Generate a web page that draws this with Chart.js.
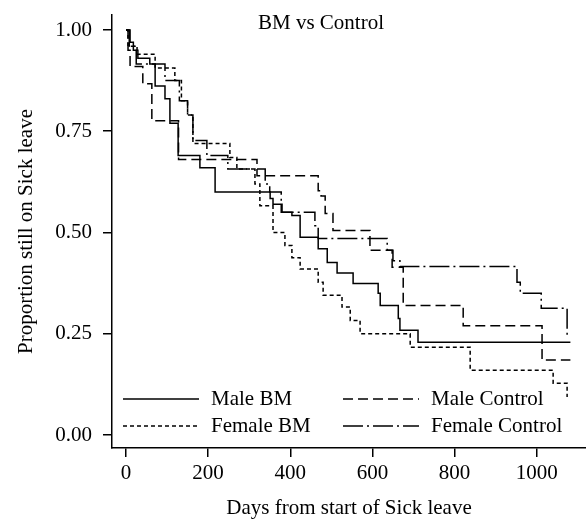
<!DOCTYPE html>
<html>
<head>
<meta charset="utf-8">
<script src="https://cdn.jsdelivr.net/npm/chart.js@4.4.1/dist/chart.umd.min.js"></script>
<style>
  html, body { margin: 0; padding: 0; background: #fff; }
  #wrap { width: 586px; height: 521px; }
</style>
</head>
<body>
<div id="wrap"><canvas id="km"></canvas></div>
<script>
// ─── Data ───
const xTicks = [0, 200, 400, 600, 800, 1000];
const yTicks = [0, 0.25, 0.5, 0.75, 1];

const maleBmDays = [0, 10, 18, 29, 58, 71, 95, 107, 127, 180, 217, 351, 358, 380, 404, 424, 468, 490, 514, 553, 614, 619, 663, 667, 711, 1082];
const maleBmSurv = [1, 0.97, 0.95, 0.93, 0.916, 0.862, 0.83, 0.77, 0.69, 0.66, 0.60, 0.584, 0.57, 0.55, 0.542, 0.488, 0.46, 0.426, 0.40, 0.374, 0.35, 0.32, 0.288, 0.259, 0.229, 0.229];

const femaleBmDays = [0, 5, 27, 71, 119, 135, 150, 163, 253, 270, 314, 326, 358, 387, 404, 424, 468, 480, 526, 546, 570, 692, 838, 1040, 1074];
const femaleBmSurv = [1, 0.96, 0.94, 0.906, 0.875, 0.825, 0.79, 0.72, 0.685, 0.657, 0.62, 0.566, 0.50, 0.468, 0.438, 0.41, 0.377, 0.345, 0.316, 0.283, 0.25, 0.217, 0.16, 0.128, 0.094];

const maleCtrlDays = [0, 5, 10, 41, 63, 128, 319, 468, 475, 485, 504, 594, 648, 675, 821, 1013, 1082];
const maleCtrlSurv = [1, 0.95, 0.91, 0.867, 0.776, 0.68, 0.64, 0.603, 0.59, 0.547, 0.505, 0.456, 0.414, 0.32, 0.27, 0.185, 0.185];

const femaleCtrlDays = [0, 8, 25, 95, 130, 150, 163, 197, 248, 339, 350, 378, 460, 468, 636, 650, 667, 952, 960, 1011, 1074];
const femaleCtrlSurv = [1, 0.96, 0.916, 0.875, 0.825, 0.79, 0.727, 0.69, 0.657, 0.62, 0.60, 0.55, 0.517, 0.485, 0.456, 0.43, 0.416, 0.377, 0.35, 0.313, 0.24];

const seriesNames = ['Male BM', 'Male Control', 'Female BM', 'Female Control'];

// ─── Helpers ───
function pts(days, surv) {
  return days.map((d, i) => ({ x: d, y: surv[i] }));
}

const FONT = { family: "'Liberation Serif', 'Times New Roman', serif", size: 21 };

function kmSet(label, days, surv, dash) {
  return {
    label,
    data: pts(days, surv),
    borderColor: '#000',
    borderWidth: 1.5,
    borderDash: dash,
    stepped: 'before',
    pointRadius: 0,
    fill: false
  };
}

// Title drawn inside the plot, as in the figure
const innerTitle = {
  id: 'innerTitle',
  afterDraw(chart, args, opts) {
    const ctx = chart.ctx;
    ctx.save();
    ctx.font = `${FONT.size}px ${FONT.family}`;
    ctx.fillStyle = '#000';
    ctx.textAlign = 'center';
    ctx.textBaseline = 'middle';
    ctx.fillText(opts.text, opts.x, opts.y);
    ctx.restore();
  }
};

// Two-column legend inside the bottom of the plot
const innerLegend = {
  id: 'innerLegend',
  afterDraw(chart, args, opts) {
    const ctx = chart.ctx;
    ctx.save();
    ctx.font = `${FONT.size}px ${FONT.family}`;
    ctx.fillStyle = '#000';
    ctx.textBaseline = 'middle';
    ctx.textAlign = 'left';
    chart.data.datasets.forEach((ds, i) => {
      const x = opts.cols[i % 2];
      const y = opts.rows[Math.floor(i / 2)];
      ctx.strokeStyle = ds.borderColor;
      ctx.lineWidth = ds.borderWidth;
      ctx.setLineDash(ds.borderDash || []);
      ctx.beginPath();
      ctx.moveTo(x, y);
      ctx.lineTo(x + opts.lineLen, y);
      ctx.stroke();
      ctx.setLineDash([]);
      ctx.fillText(ds.label, x + opts.textGap, y);
    });
    ctx.restore();
  }
};

const ctx = document.getElementById('km');

new Chart(ctx, {
  type: 'line',
  data: {
    datasets: [
      kmSet(seriesNames[0], maleBmDays, maleBmSurv, []),
      kmSet(seriesNames[1], maleCtrlDays, maleCtrlSurv, [10, 5]),
      kmSet(seriesNames[2], femaleBmDays, femaleBmSurv, [4, 3]),
      kmSet(seriesNames[3], femaleCtrlDays, femaleCtrlSurv, [20, 4, 2, 4])
    ]
  },
  options: {
    responsive: true,
    maintainAspectRatio: false,
    animation: false,
    layout: { padding: { top: 15, right: 0, left: 0, bottom: 0 } },
    plugins: {
      legend: { display: false },
      tooltip: { enabled: false },
      innerTitle: { text: 'BM vs Control', x: 321, y: 23 },
      innerLegend: { cols: [123, 343], rows: [399, 426], lineLen: 76, textGap: 88 }
    },
    scales: {
      x: {
        type: 'linear',
        min: -34,
        max: 1120,
        afterBuildTicks: s => { s.ticks = xTicks.map(v => ({ value: v })); },
        afterFit: s => { s.height = 73; s.paddingLeft = 0; s.paddingRight = 0; },
        grid: { display: true, drawOnChartArea: false, drawTicks: true, tickLength: 9, color: '#000', lineWidth: 1.5 },
        border: { display: true, color: '#000', width: 1.5 },
        ticks: { color: '#000', font: FONT, padding: 4, maxRotation: 0, callback: v => String(v) },
        title: { display: true, text: 'Days from start of Sick leave', color: '#000', font: FONT, padding: { top: 0, bottom: 0 } }
      },
      y: {
        type: 'linear',
        min: -0.032,
        max: 1.037,
        afterBuildTicks: s => { s.ticks = yTicks.map(v => ({ value: v })); },
        afterFit: s => { s.width = 112; s.paddingTop = 0; s.paddingBottom = 0; },
        grid: { display: true, drawOnChartArea: false, drawTicks: true, tickLength: 9, color: '#000', lineWidth: 1.5 },
        border: { display: true, color: '#000', width: 1.5 },
        ticks: { color: '#000', font: FONT, padding: 11, callback: v => v.toFixed(2) },
        title: { display: true, text: 'Proportion still on Sick leave', color: '#000', font: FONT, padding: { top: 14, bottom: 0 } }
      }
    }
  },
  plugins: [innerTitle, innerLegend]
});
</script>
</body>
</html>
